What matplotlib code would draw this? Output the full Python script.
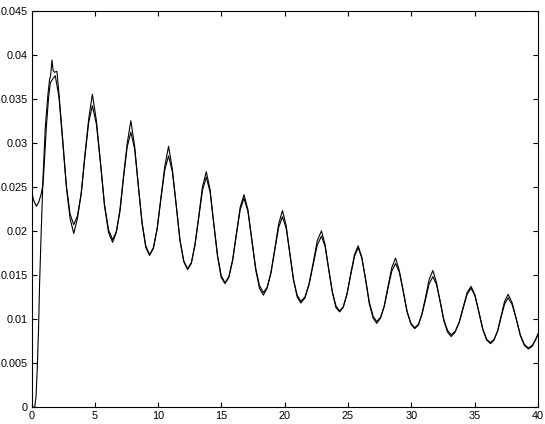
import matplotlib
matplotlib.use("Agg")
import matplotlib.pyplot as plt
from matplotlib.ticker import MultipleLocator, FuncFormatter

plt.rcParams["font.family"] = ["Liberation Sans", "DejaVu Sans"]

# start of each run (they differ only here)
x_start_a = [0, 0.15, 0.37, 0.55, 0.76, 0.9, 1.03, 1.16, 1.34, 1.48, 1.69, 1.87]
y_start_a = [0.0246, 0.0235, 0.0228, 0.0232, 0.0242, 0.0253, 0.0283, 0.0317,
             0.0351, 0.0368, 0.0373, 0.0376]

x_start_b = [0, 0.25, 0.35, 0.45, 0.55, 0.63, 0.76, 0.9, 1.08, 1.29, 1.42, 1.5,
             1.61, 1.7, 1.8, 2.0]
y_start_b = [0, 0, 0.0012, 0.0045, 0.009, 0.014, 0.020, 0.026, 0.0317, 0.0355,
             0.0372, 0.0376, 0.0394, 0.0382, 0.0380, 0.0381]

# shared time axis after the first peak
t = [2.16, 2.45, 2.75, 3.04, 3.33,
     3.62, 3.92, 4.21, 4.51, 4.8,
     5.12, 5.44, 5.76, 6.08, 6.4,
     6.69, 6.98, 7.26, 7.55, 7.84,
     8.14, 8.43, 8.73, 9.02, 9.32,
     9.62, 9.92, 10.22, 10.52, 10.82,
     11.12, 11.42, 11.72, 12.02, 12.32,
     12.62, 12.91, 13.21, 13.5, 13.8,
     14.1, 14.39, 14.69, 14.98, 15.28,
     15.58, 15.88, 16.18, 16.48, 16.78,
     17.09, 17.39, 17.7, 18.0, 18.31,
     18.61, 18.91, 19.22, 19.52, 19.82,
     20.11, 20.4, 20.69, 20.98, 21.27,
     21.6, 21.92, 22.25, 22.57, 22.9,
     23.19, 23.47, 23.76, 24.04, 24.33,
     24.62, 24.92, 25.21, 25.51, 25.8,
     26.09, 26.39, 26.68, 26.98, 27.27,
     27.57, 27.86, 28.16, 28.45, 28.75,
     29.05, 29.36, 29.66, 29.97, 30.27,
     30.56, 30.84, 31.13, 31.41, 31.7,
     31.99, 32.28, 32.57, 32.86, 33.15,
     33.46, 33.78, 34.09, 34.41, 34.72,
     35.03, 35.34, 35.64, 35.95, 36.26,
     36.54, 36.82, 37.09, 37.37, 37.65,
     37.97, 38.29, 38.61, 38.93, 39.25,
     39.55, 39.8, 40.0]

run_a = [0.0352, 0.0303, 0.0251, 0.0219, 0.0207,
         0.0217, 0.0242, 0.0284, 0.0323, 0.0342,
         0.0321, 0.0277, 0.0230, 0.0201, 0.0190,
         0.0199, 0.0222, 0.0260, 0.0295, 0.0312,
         0.0293, 0.0252, 0.0209, 0.0183, 0.0173,
         0.0181, 0.0202, 0.0237, 0.0269, 0.0285,
         0.0267, 0.0230, 0.0190, 0.0166, 0.0157,
         0.0164, 0.0184, 0.0216, 0.0246, 0.0261,
         0.0244, 0.0209, 0.0172, 0.0149, 0.0141,
         0.0148, 0.0166, 0.0196, 0.0224, 0.0237,
         0.0222, 0.0191, 0.0158, 0.0138, 0.0130,
         0.0136, 0.0152, 0.0179, 0.0204, 0.0216,
         0.0203, 0.0175, 0.0145, 0.0127, 0.0120,
         0.0125, 0.0139, 0.0162, 0.0184, 0.0194,
         0.0182, 0.0157, 0.0131, 0.0115, 0.0109,
         0.0114, 0.0128, 0.0150, 0.0171, 0.0181,
         0.0169, 0.0145, 0.0119, 0.0103, 0.0097,
         0.0102, 0.0114, 0.0135, 0.0154, 0.0163,
         0.0153, 0.0132, 0.0109, 0.0095, 0.0090,
         0.0094, 0.0105, 0.0123, 0.0140, 0.0148,
         0.0139, 0.0120, 0.0099, 0.0087, 0.0082,
         0.0086, 0.0096, 0.0112, 0.0128, 0.0135,
         0.0126, 0.0108, 0.0089, 0.0077, 0.0073,
         0.0077, 0.0086, 0.0102, 0.0117, 0.0124,
         0.0116, 0.0100, 0.0082, 0.0071, 0.0067,
         0.0070, 0.0076, 0.0083]

run_b = [0.0356, 0.0305, 0.0249, 0.0214, 0.0197,
         0.0214, 0.0243, 0.0286, 0.0327, 0.0355,
         0.0325, 0.0278, 0.0228, 0.0198, 0.0187,
         0.0198, 0.0224, 0.0262, 0.0299, 0.0325,
         0.0296, 0.0251, 0.0208, 0.0181, 0.0172,
         0.0180, 0.0203, 0.0238, 0.0273, 0.0296,
         0.0270, 0.0229, 0.0189, 0.0165, 0.0156,
         0.0163, 0.0185, 0.0217, 0.0250, 0.0267,
         0.0247, 0.0208, 0.0171, 0.0147, 0.0140,
         0.0147, 0.0167, 0.0197, 0.0227, 0.0241,
         0.0224, 0.0190, 0.0156, 0.0135, 0.0127,
         0.0135, 0.0153, 0.0180, 0.0208, 0.0223,
         0.0206, 0.0174, 0.0144, 0.0125, 0.0118,
         0.0124, 0.0140, 0.0164, 0.0189, 0.0200,
         0.0184, 0.0156, 0.0130, 0.0113, 0.0108,
         0.0113, 0.0129, 0.0151, 0.0173, 0.0183,
         0.0170, 0.0144, 0.0117, 0.0101, 0.0095,
         0.0101, 0.0115, 0.0137, 0.0158, 0.0169,
         0.0155, 0.0131, 0.0108, 0.0094, 0.0089,
         0.0093, 0.0106, 0.0125, 0.0145, 0.0155,
         0.0141, 0.0119, 0.0098, 0.0085, 0.0080,
         0.0085, 0.0096, 0.0113, 0.0130, 0.0137,
         0.0127, 0.0107, 0.0088, 0.0076, 0.0072,
         0.0076, 0.0087, 0.0103, 0.0120, 0.0128,
         0.0118, 0.0100, 0.0081, 0.0070, 0.0066,
         0.0069, 0.0076, 0.0082]

fig = plt.figure(figsize=(5.45, 4.24), dpi=100)
ax = fig.add_axes([0.058, 0.040, 0.929, 0.935])

ax.plot(x_start_a + t, y_start_a + run_a, color="black", lw=0.8)
ax.plot(x_start_b + t, y_start_b + run_b, color="black", lw=0.8)

ax.set_xlim(0, 40)
ax.set_ylim(0, 0.045)
ax.xaxis.set_major_locator(MultipleLocator(5))
ax.yaxis.set_major_locator(MultipleLocator(0.005))
fmt = FuncFormatter(lambda v, p: f"{v:g}")
ax.xaxis.set_major_formatter(fmt)
ax.yaxis.set_major_formatter(fmt)
ax.tick_params(direction="in", top=True, right=True, length=3.5, width=0.8,
               labelsize=7.8, pad=3)
for s in ax.spines.values():
    s.set_linewidth(0.8)

fig.savefig("out.png", dpi=100)
